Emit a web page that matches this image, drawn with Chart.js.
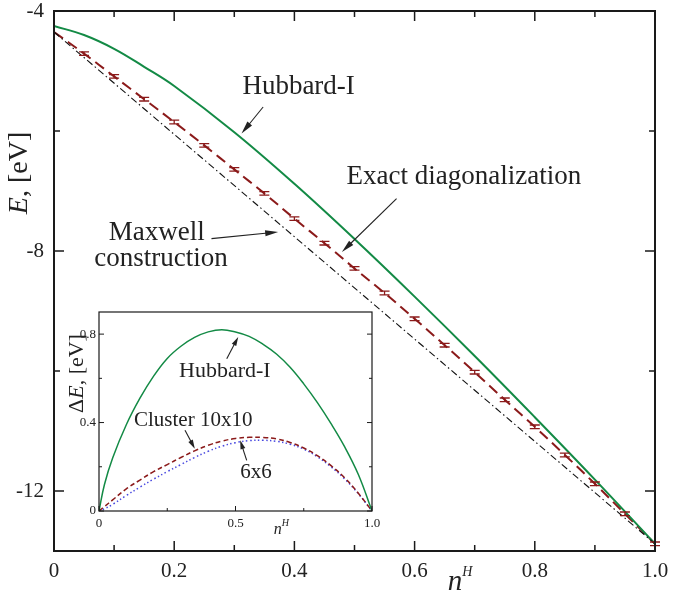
<!DOCTYPE html>
<html>
<head>
<meta charset="utf-8">
<script src="https://cdn.jsdelivr.net/npm/chart.js@4.4.1/dist/chart.umd.min.js"></script>
<style>
  html, body { margin: 0; padding: 0; background: #fff; }
  #wrap { position: relative; width: 685px; height: 593px; }
  #main { position: absolute; left: 0; top: 0; }
  #inset { position: absolute; left: 60px; top: 300px; }
</style>
</head>
<body>
<div id="wrap">
  <canvas id="main" width="685" height="593"></canvas>
  <canvas id="inset" width="322" height="245"></canvas>
</div>
<script>
// main panel: E(n^H)
const hubN = [0, 0.05, 0.1, 0.15, 0.2, 0.3, 0.4, 0.5, 0.6, 0.7, 0.8, 0.9, 1.0];
const hubE = [-4.25, -4.40, -4.63, -4.93, -5.25, -6.02, -6.88, -7.80, -8.76, -9.75, -10.77, -11.81, -12.88];

const exactN = [0, 0.05, 0.1, 0.15, 0.2, 0.25, 0.3, 0.35, 0.4, 0.45, 0.5,
                0.55, 0.6, 0.65, 0.7, 0.75, 0.8, 0.85, 0.9, 0.95, 1.0];
const exactE = [-4.35, -4.71, -5.09, -5.47, -5.85, -6.24, -6.64, -7.04, -7.46, -7.87, -8.29,
                -8.70, -9.13, -9.57, -10.02, -10.48, -10.93, -11.40, -11.88, -12.38, -12.88];
const exactErr = [0, 0.03, 0.03, 0.03, 0.03, 0.03, 0.03, 0.03, 0.03, 0.03, 0.03,
                  0.03, 0.03, 0.03, 0.03, 0.03, 0.03, 0.03, 0.03, 0.03, 0.03];

const maxN = [0, 1.0];
const maxE = [-4.35, -12.88];

const xMajor = [0, 0.2, 0.4, 0.6, 0.8, 1.0];
const xLabels = ['0', '0.2', '0.4', '0.6', '0.8', '1.0'];
const xMinor = [0.1, 0.3, 0.5, 0.7, 0.9];
const yMajor = [-4, -8, -12];
const yLabels = ['-4', '-8', '-12'];
const yMinor = [-6, -10];

// inset: Delta E relative to Maxwell construction
const dN = [0, 0.02, 0.05, 0.1, 0.15, 0.2, 0.25, 0.3, 0.35, 0.4, 0.45, 0.5,
            0.55, 0.6, 0.65, 0.7, 0.75, 0.8, 0.85, 0.9, 0.95, 1.0];
const dHub = [0, 0.12, 0.24, 0.39, 0.51, 0.61, 0.69, 0.745, 0.785, 0.81, 0.82, 0.81,
              0.79, 0.755, 0.71, 0.65, 0.575, 0.49, 0.395, 0.29, 0.165, 0];
const dC10 = [0, 0.02, 0.05, 0.10, 0.14, 0.178, 0.21, 0.242, 0.272, 0.297, 0.316, 0.328,
              0.333, 0.333, 0.326, 0.31, 0.285, 0.25, 0.205, 0.15, 0.08, 0];
const dC6 = [0, 0.01, 0.03, 0.07, 0.108, 0.144, 0.178, 0.21, 0.242, 0.27, 0.293, 0.309,
             0.318, 0.32, 0.315, 0.302, 0.28, 0.245, 0.2, 0.145, 0.078, 0];

const ixMajor = [0, 0.5, 1.0];
const ixLabels = ['0', '0.5', '1.0'];
const ixMinor = [0.25, 0.75];
const iyMajor = [0, 0.4, 0.8];
const iyLabels = ['0', '0.4', '0.8'];
const iyMinor = [0.2, 0.6];

const SERIF = '"Liberation Serif", "Times New Roman", serif';
const GREEN = '#138a45';
const DARKRED = '#8b1a1a';
const BLUE = '#4848e0';

function pts(xs, ys) {
    return xs.map((v, i) => ({ x: v, y: ys[i] }));
}

function arrow(ctx, x1, y1, x2, y2, len, w) {
    const a = Math.atan2(y2 - y1, x2 - x1);
    ctx.beginPath();
    ctx.moveTo(x1, y1);
    ctx.lineTo(x2 - Math.cos(a) * len * 0.8, y2 - Math.sin(a) * len * 0.8);
    ctx.stroke();
    ctx.beginPath();
    ctx.moveTo(x2, y2);
    ctx.lineTo(x2 - Math.cos(a) * len - Math.sin(a) * w / 2, y2 - Math.sin(a) * len + Math.cos(a) * w / 2);
    ctx.lineTo(x2 - Math.cos(a) * len + Math.sin(a) * w / 2, y2 - Math.sin(a) * len - Math.cos(a) * w / 2);
    ctx.closePath();
    ctx.fill();
}

// frame, inward ticks, notes, arrows and axis titles
const decor = {
    id: 'decor',
    afterDatasetsDraw(chart) {
        const o = chart.options.plugins.decor;
        const { ctx, chartArea: a, scales: { x, y } } = chart;
        ctx.save();

        if (o.errors) {
            ctx.strokeStyle = DARKRED;
            ctx.lineWidth = 1.3;
            ctx.beginPath();
            exactN.forEach((n, i) => {
                if (!exactErr[i]) return;
                const px = x.getPixelForValue(n);
                const t = y.getPixelForValue(exactE[i] + exactErr[i]);
                const b = y.getPixelForValue(exactE[i] - exactErr[i]);
                ctx.moveTo(px, t); ctx.lineTo(px, b);
                ctx.moveTo(px - 5, t); ctx.lineTo(px + 5, t);
                ctx.moveTo(px - 5, b); ctx.lineTo(px + 5, b);
            });
            ctx.stroke();
        }

        ctx.strokeStyle = '#1a1a1a';
        ctx.lineWidth = o.frame;
        ctx.strokeRect(a.left, a.top, a.right - a.left, a.bottom - a.top);

        ctx.lineWidth = o.tickW;
        ctx.beginPath();
        const xt = (v, L) => {
            const px = x.getPixelForValue(v);
            ctx.moveTo(px, a.bottom); ctx.lineTo(px, a.bottom - L);
            if (o.top) { ctx.moveTo(px, a.top); ctx.lineTo(px, a.top + L); }
        };
        const yt = (v, L) => {
            const py = y.getPixelForValue(v);
            ctx.moveTo(a.left, py); ctx.lineTo(a.left + L, py);
            ctx.moveTo(a.right, py); ctx.lineTo(a.right - L, py);
        };
        o.xMajor.forEach(v => xt(v, o.major));
        o.xMinor.forEach(v => xt(v, o.minor));
        o.yMajor.forEach(v => yt(v, o.major));
        o.yMinor.forEach(v => yt(v, o.minor));
        ctx.stroke();

        ctx.fillStyle = '#222';
        ctx.strokeStyle = '#222';
        ctx.textAlign = 'center';
        ctx.textBaseline = 'alphabetic';
        o.notes.forEach(nt => {
            ctx.font = nt.size + 'px ' + SERIF;
            ctx.fillText(nt.text, x.getPixelForValue(nt.x), y.getPixelForValue(nt.y));
        });
        ctx.lineWidth = 1.1;
        o.arrows.forEach(ar => {
            arrow(ctx, x.getPixelForValue(ar[0]), y.getPixelForValue(ar[1]),
                  x.getPixelForValue(ar[2]), y.getPixelForValue(ar[3]), o.head[0], o.head[1]);
        });

        // y title: italic symbol + ", [eV]"
        const yt1 = o.yTitle;
        ctx.save();
        ctx.translate(yt1.cx, (a.top + a.bottom) / 2 + yt1.dy);
        ctx.rotate(-Math.PI / 2);
        ctx.textAlign = 'left';
        ctx.font = 'italic ' + yt1.size + 'px ' + SERIF;
        const w1 = ctx.measureText(yt1.sym).width;
        ctx.font = yt1.size + 'px ' + SERIF;
        const w2 = ctx.measureText(yt1.rest).width;
        let sx = -(w1 + w2) / 2;
        if (yt1.pre) {
            const w0 = ctx.measureText(yt1.pre).width;
            sx = -(w0 + w1 + w2) / 2;
            ctx.fillText(yt1.pre, sx, 0);
            sx += w0;
        }
        ctx.font = 'italic ' + yt1.size + 'px ' + SERIF;
        ctx.fillText(yt1.sym, sx, 0);
        ctx.font = yt1.size + 'px ' + SERIF;
        ctx.fillText(yt1.rest, sx + w1, 0);
        ctx.restore();

        // x title: n^H
        const xt1 = o.xTitle;
        ctx.textAlign = 'left';
        const nx = x.getPixelForValue(xt1.at);
        ctx.font = 'italic ' + xt1.size + 'px ' + SERIF;
        ctx.fillText('n', nx, a.bottom + xt1.dy);
        ctx.font = 'italic ' + xt1.sup + 'px ' + SERIF;
        ctx.fillText('H', nx + xt1.size * 0.5, a.bottom + xt1.dy - xt1.size * 0.5);

        ctx.restore();
    }
};

function axis(min, max, major, labels, size, pad, fitKey, fitVal) {
    return {
        type: 'linear', min: min, max: max,
        grid: { display: false, drawTicks: false },
        border: { display: false },
        afterBuildTicks: s => { s.ticks = major.map(v => ({ value: v })); },
        afterFit: s => {
            s[fitKey] = fitVal;
            s.paddingTop = 0; s.paddingBottom = 0;
            s.paddingLeft = 0; s.paddingRight = 0;
        },
        ticks: {
            padding: pad,
            color: '#222',
            font: { family: SERIF, size: size },
            callback: (v, i) => labels[i]
        }
    };
}

new Chart(document.getElementById('main'), {
    type: 'line',
    data: {
        datasets: [
            { data: pts(maxN, maxE), borderColor: '#111', borderWidth: 1.1,
              borderDash: [7, 3, 1.5, 3], pointRadius: 0, tension: 0 },
            { data: pts(hubN, hubE), borderColor: GREEN, borderWidth: 2,
              pointRadius: 0, tension: 0.4 },
            { data: pts(exactN, exactE), borderColor: DARKRED, borderWidth: 2,
              borderDash: [11, 6], pointRadius: 0, tension: 0.4 }
        ]
    },
    options: {
        responsive: false,
        animation: false,
        layout: { padding: { left: 0, top: 11, right: 30, bottom: 0 } },
        scales: {
            x: axis(0, 1, xMajor, xLabels, 21, 8, 'height', 42),
            y: axis(-13, -4, yMajor, yLabels, 21, 10, 'width', 54)
        },
        plugins: {
            legend: { display: false },
            tooltip: { enabled: false },
            decor: {
                errors: true, frame: 2, tickW: 1.5, major: 10, minor: 6, top: true,
                xMajor: xMajor, xMinor: xMinor, yMajor: yMajor, yMinor: yMinor,
                head: [13, 6],
                notes: [
                    { text: 'Hubbard-I', x: 0.407, y: -5.377, size: 27 },
                    { text: 'Exact diagonalization', x: 0.682, y: -6.888, size: 27 },
                    { text: 'Maxwell', x: 0.171, y: -7.822, size: 27 },
                    { text: 'construction', x: 0.178, y: -8.255, size: 27 }
                ],
                arrows: [
                    [0.348, -5.6, 0.312, -6.043],
                    [0.570, -7.127, 0.479, -8.017],
                    [0.262, -7.793, 0.373, -7.683]
                ],
                yTitle: { sym: 'E', rest: ', [eV]', size: 28, cx: 27, dy: -108 },
                xTitle: { at: 0.655, size: 29, sup: 14, dy: 39 }
            }
        }
    },
    plugins: [decor]
});

new Chart(document.getElementById('inset'), {
    type: 'line',
    data: {
        datasets: [
            { data: pts(dN, dHub), borderColor: GREEN, borderWidth: 1.5,
              pointRadius: 0, tension: 0.4 },
            { data: pts(dN, dC10), borderColor: DARKRED, borderWidth: 1.5,
              borderDash: [5, 3], pointRadius: 0, tension: 0.4 },
            { data: pts(dN, dC6), borderColor: BLUE, borderWidth: 1.5,
              borderDash: [1.5, 2.5], pointRadius: 0, tension: 0.4 }
        ]
    },
    options: {
        responsive: false,
        animation: false,
        layout: { padding: { left: 0, top: 12, right: 10, bottom: 0 } },
        scales: {
            x: axis(0, 1, ixMajor, ixLabels, 13, 5, 'height', 34),
            y: axis(0, 0.9, iyMajor, iyLabels, 13, 3, 'width', 39)
        },
        plugins: {
            legend: { display: false },
            tooltip: { enabled: false },
            decor: {
                errors: false, frame: 1.2, tickW: 1, major: 5, minor: 3, top: false,
                xMajor: ixMajor, xMinor: ixMinor, yMajor: iyMajor, yMinor: iyMinor,
                head: [9, 5],
                notes: [
                    { text: 'Hubbard-I', x: 0.461, y: 0.606, size: 22 },
                    { text: 'Cluster 10x10', x: 0.345, y: 0.383, size: 21 },
                    { text: '6x6', x: 0.575, y: 0.147, size: 21 }
                ],
                arrows: [
                    [0.468, 0.689, 0.510, 0.787],
                    [0.315, 0.365, 0.351, 0.282],
                    [0.541, 0.229, 0.517, 0.320]
                ],
                yTitle: { pre: '\u0394', sym: 'E', rest: ', [eV]', size: 22, cx: 23, dy: -38 },
                xTitle: { at: 0.64, size: 16, sup: 10, dy: 23 }
            }
        }
    },
    plugins: [decor]
});
</script>
</body>
</html>
